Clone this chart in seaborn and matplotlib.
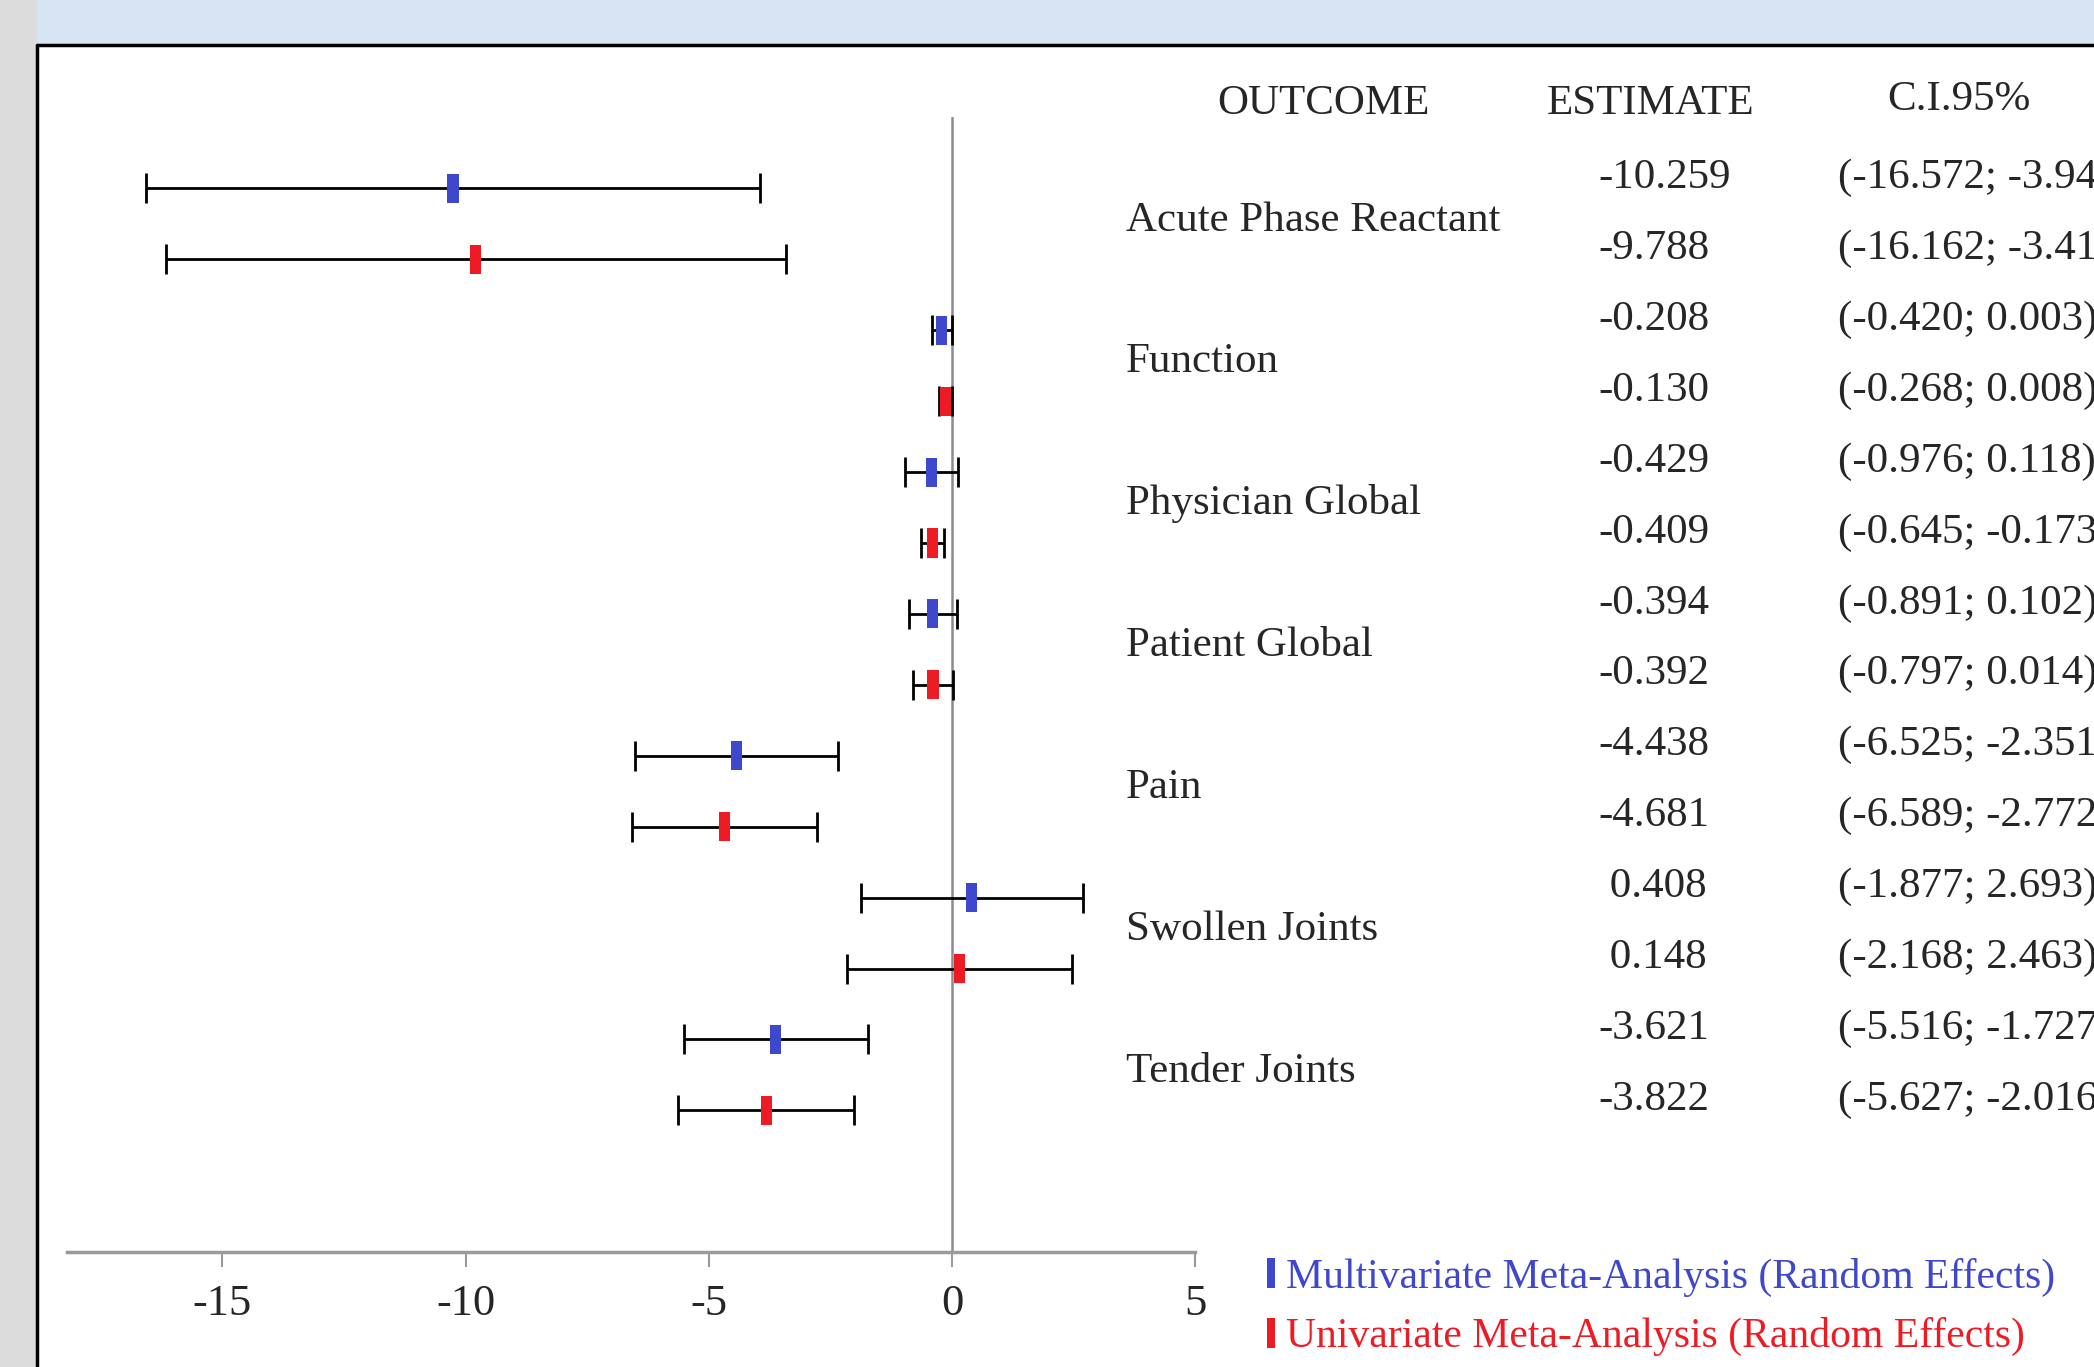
import matplotlib
matplotlib.use("Agg")
import matplotlib.pyplot as plt
import matplotlib.transforms as mtransforms
from matplotlib.patches import Rectangle
from matplotlib.lines import Line2D
import seaborn as sns
import pandas as pd

# values
outcomes = ["Acute Phase Reactant", "Function", "Physician Global", "Patient Global",
            "Pain", "Swollen Joints", "Tender Joints"]
multi_est = [-10.259, -0.208, -0.429, -0.394, -4.438, 0.408, -3.621]
multi_lo = [-16.572, -0.420, -0.976, -0.891, -6.525, -1.877, -5.516]
multi_hi = [-3.946, 0.003, 0.118, 0.102, -2.351, 2.693, -1.727]
uni_est = [-9.788, -0.130, -0.409, -0.392, -4.681, 0.148, -3.822]
uni_lo = [-16.162, -0.268, -0.645, -0.797, -6.589, -2.168, -5.627]
uni_hi = [-3.414, 0.008, -0.173, 0.014, -2.772, 2.463, -2.016]
x_ticks = [-15, -10, -5, 0, 5]
models = ["Multivariate Meta-Analysis (Random Effects)",
          "Univariate Meta-Analysis (Random Effects)"]

BLUE = "#3F48CC"
RED = "#ED1C24"

rows = []
for i, name in enumerate(outcomes):
    rows.append(dict(outcome=name, model=models[0], est=multi_est[i], lo=multi_lo[i], hi=multi_hi[i], row=2 * i))
    rows.append(dict(outcome=name, model=models[1], est=uni_est[i], lo=uni_lo[i], hi=uni_hi[i], row=2 * i + 1))
df = pd.DataFrame(rows)

sns.set_theme(style="white")
plt.rcParams["font.family"] = ["Liberation Serif", "DejaVu Serif"]
plt.rcParams["axes.unicode_minus"] = False

fig = plt.figure(figsize=(20.94, 13.67), dpi=100, facecolor="white")

# page decoration: grey margin, blue banner, black frame lines
fig.patches.append(Rectangle((0, 0), 37 / 2094, 1, transform=fig.transFigure, color="#DCDCDC", zorder=0))
fig.patches.append(Rectangle((37 / 2094, 1 - 45 / 1367), 1, 45 / 1367, transform=fig.transFigure,
                             color="#D6E4F4", zorder=0))
fig.add_artist(Line2D([37 / 2094, 37 / 2094], [0, 1 - 45 / 1367], transform=fig.transFigure, color="black", lw=2.5))
fig.add_artist(Line2D([37 / 2094, 1], [1 - 45 / 1367, 1 - 45 / 1367], transform=fig.transFigure, color="black", lw=2.5))

ax = fig.add_axes([50 / 1568, 1 - 938 / 1024, 845 / 1568, 850 / 1024])
ax.patch.set_alpha(0)

ax.axvline(0, color="#8C8C8C", lw=1.8, zorder=1)
ax.errorbar(df["est"], df["row"], xerr=[df["est"] - df["lo"], df["hi"] - df["est"]],
            fmt="none", ecolor="black", elinewidth=2, capsize=10.5, capthick=2, zorder=2)

bar_marker = [(-0.38, -1), (0.38, -1), (0.38, 1), (-0.38, 1)]
sns.scatterplot(data=df, x="est", y="row", hue="model", palette=[BLUE, RED], marker=bar_marker,
                s=440, linewidth=0, legend=False, zorder=3, ax=ax)

ax.set_xlim(-18.2, 5)
ax.set_ylim(15, -1)
ax.set_xticks(x_ticks)
ax.set_xticklabels([str(t) for t in x_ticks])
ax.set_yticks([])
ax.set_xlabel("")
ax.set_ylabel("")
for s in ["left", "top", "right"]:
    ax.spines[s].set_visible(False)
ax.spines["bottom"].set_color("#9A9A9A")
ax.spines["bottom"].set_linewidth(2.5)
ax.tick_params(axis="x", direction="out", length=11, width=1.5, color="#9A9A9A",
               labelsize=32, pad=12, bottom=True)

# table on the right
tr = mtransforms.blended_transform_factory(fig.transFigure, ax.transData)
fs = 31
ax.text(991 / 1568, -1.2, "OUTCOME", transform=tr, ha="center", va="center", fontsize=fs, clip_on=False)
ax.text(1236 / 1568, -1.2, "ESTIMATE", transform=tr, ha="center", va="center", fontsize=fs, clip_on=False)
ax.text(1467 / 1568, -1.25, "C.I.95%", transform=tr, ha="center", va="center", fontsize=fs, clip_on=False)

for i, name in enumerate(outcomes):
    ax.text(843 / 1568, 2 * i + 0.45, name, transform=tr, ha="left", va="center", fontsize=fs, clip_on=False)

for _, r in df.iterrows():
    est_txt = f"{r['est']:.3f}" if r["est"] < 0 else f" {r['est']:.3f}"
    ax.text(1197 / 1568, r["row"] - 0.15, est_txt, transform=tr, ha="left", va="center",
            fontsize=fs, clip_on=False)
    ax.text(1376 / 1568, r["row"] - 0.15, f"({r['lo']:.3f}; {r['hi']:.3f})", transform=tr,
            ha="left", va="center", fontsize=fs, clip_on=False)

# legend in the bottom right
legend_marker = [(-0.28, -1), (0.28, -1), (0.28, 1), (-0.28, 1)]
handles = [Line2D([], [], ls="none", marker=legend_marker, markersize=22, color=c, markeredgewidth=0)
           for c in [BLUE, RED]]
leg = fig.legend(handles, models, loc="center left", bbox_to_anchor=(944 / 1568, 1 - 979 / 1024),
                 frameon=False, fontsize=30, handlelength=0.3, handletextpad=0.2,
                 labelspacing=0.5, borderpad=0.1, borderaxespad=0)
for txt, c in zip(leg.get_texts(), [BLUE, RED]):
    txt.set_color(c)

fig.savefig("out.png", dpi=100)
